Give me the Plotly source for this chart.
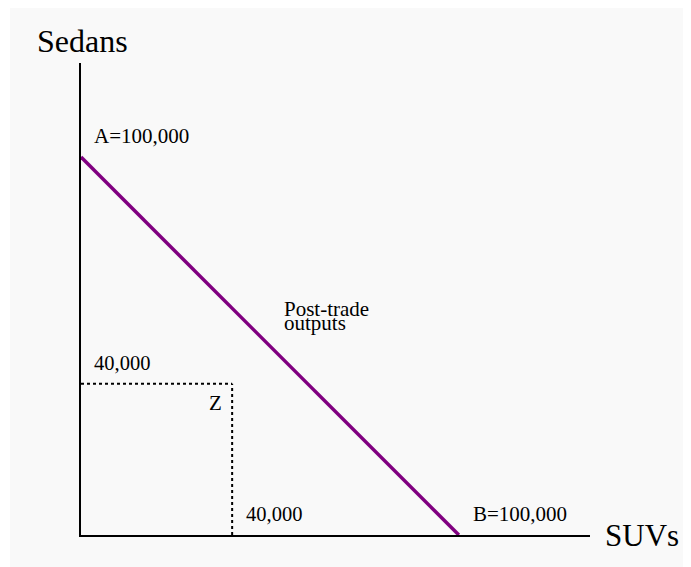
import plotly.graph_objects as go

# ---- data ----
ppf_suvs = [0, 100000]          # x values of the post-trade line
ppf_sedans = [100000, 0]        # y values of the post-trade line
point_z_suvs = 40000
point_z_sedans = 40000
axis_max_suvs = 134700
axis_max_sedans = 124900
x_title = "SUVs"
y_title = "Sedans"
label_a = "A=100,000"
label_b = "B=100,000"
label_z_x = "40,000"
label_z_y = "40,000"
label_z = "Z"
label_line_1 = "Post-trade"
label_line_2 = "outputs"

FONT = "Liberation Serif, Times New Roman, serif"
fig = go.Figure()

# dotted guides to point Z
fig.add_trace(go.Scatter(x=[0, point_z_suvs], y=[point_z_sedans, point_z_sedans],
                         mode="lines", line=dict(color="black", width=2, dash="dot"),
                         hoverinfo="skip", showlegend=False, cliponaxis=False))
fig.add_trace(go.Scatter(x=[point_z_suvs, point_z_suvs], y=[0, point_z_sedans],
                         mode="lines", line=dict(color="black", width=2, dash="dot"),
                         hoverinfo="skip", showlegend=False, cliponaxis=False))
# post-trade line
fig.add_trace(go.Scatter(x=ppf_suvs, y=ppf_sedans, mode="lines",
                         line=dict(color="#800080", width=3.5),
                         hoverinfo="skip", showlegend=False, cliponaxis=False))

ann = []
def a(text, x, y, xanchor="left", yanchor="middle", size=21, xshift=0, yshift=0):
    ann.append(dict(text=text, x=x, y=y, xref="x", yref="y", showarrow=False,
                    xanchor=xanchor, yanchor=yanchor, xshift=xshift, yshift=yshift,
                    font=dict(family=FONT, size=size, color="black")))

a(y_title, 0, axis_max_sedans, size=32, xshift=-46, yshift=22)
a(x_title, axis_max_suvs, 0, size=31, xshift=13, yshift=0)
a(label_a, ppf_suvs[0], ppf_sedans[0], xshift=11, yshift=21)
a(label_b, ppf_suvs[1], ppf_sedans[1], xshift=12, yshift=21.5)
a(label_z_y, 0, point_z_sedans, size=20.5, xshift=11, yshift=20.5)
a(label_z_x, point_z_suvs, 0, size=20.5, xshift=12, yshift=21)
a(label_z, point_z_suvs, point_z_sedans, xanchor="center", xshift=-17, yshift=-19.5)
a(label_line_1, 53300, 59900, size=21)
a(label_line_2, 53300, 56100, size=21)

fig.update_layout(
    width=683, height=559,
    margin=dict(l=73, r=101, t=55, b=32),
    paper_bgcolor="white", plot_bgcolor="rgba(0,0,0,0)",
    annotations=ann,
    shapes=[dict(type="rect", xref="paper", yref="paper", layer="below",
                 x0=-71/509, x1=1 + 120/509, y0=-40/472, y1=1 + 60/472,
                 fillcolor="#f9f9f9", line=dict(width=0))],
    xaxis=dict(range=[0, axis_max_suvs], showgrid=False, zeroline=False,
               showticklabels=False, ticks="", showline=True, linecolor="black",
               linewidth=2),
    yaxis=dict(range=[0, axis_max_sedans], showgrid=False, zeroline=False,
               showticklabels=False, ticks="", showline=True, linecolor="black",
               linewidth=2),
)

fig.write_html("out.html")
